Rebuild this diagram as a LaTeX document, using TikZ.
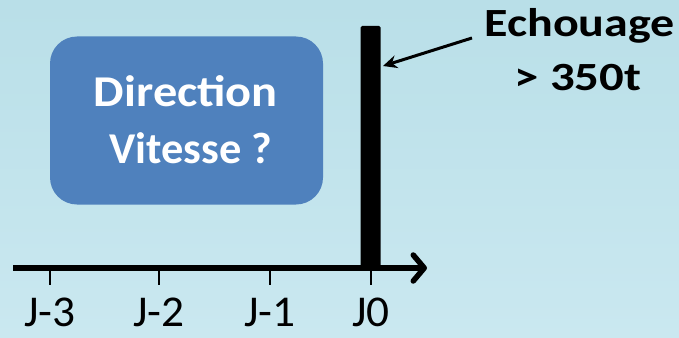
\documentclass[tikz,border=0pt]{standalone}
\usepackage{fontspec}
\setmainfont{Carlito}
\usetikzlibrary{arrows.meta}
\definecolor{bgtop}{RGB}{185,223,232}
\definecolor{bgbot}{RGB}{202,232,240}
\definecolor{boxblue}{RGB}{79,129,189}
\tikzset{
  boxtext/.style={font=\fontsize{44}{53}\selectfont\bfseries, inner sep=0pt, anchor=base},
  notetext/.style={font=\fontsize{40}{48}\selectfont\bfseries, inner sep=0pt, anchor=base},
  daylabel/.style={font=\fontsize{44}{53}\selectfont, inner sep=0pt, anchor=base, text depth=1pt},
  tickmark/.style={line width=2pt},
  axisline/.style={line width=5.5pt, -{Straight Barb[length=11pt,width=26pt,round]}},
  pointer/.style={line width=3pt, -{Stealth[length=14pt,width=13pt]}},
}
\begin{document}
\begin{tikzpicture}[x=1pt,y=-1pt]
  % backdrop
  \fill[top color=bgtop, bottom color=bgbot] (0,0) rectangle (679,337);
  \useasboundingbox (0,0) rectangle (679,337);

  % question box
  \node[fill=boxblue, rounded corners=27pt, minimum width=273pt, minimum height=168pt,
        inner sep=0pt] (qbox) at (186.5,120.5) {};
  \node[boxtext, text=white] (dir1) at (186,106) {\scalebox{1.1}[1]{Direction}};
  \node[boxtext, text=white] (dir2) at (191,163) {\scalebox{1.01}[1]{Vitesse ?}};

  % stranding bar at day 0
  \node[fill=black, minimum width=20pt, minimum height=244pt, inner sep=0pt,
        rounded corners=1.5pt] (bar) at (370.5,148) {};

  % time axis
  \coordinate (ax0) at (13,268);
  \coordinate (ax1) at (427,268);
  \draw[axisline] (ax0) -- (ax1);

  \foreach \x/\t/\n in {50/J-3/a, 159/J-2/b, 270/J-1/c, 371/J0/d} {
    \coordinate (tick\n) at (\x,271);
    \draw[tickmark] (tick\n) -- ++(0,14);
    \node[daylabel] (lab\n) at (\x,326) {\scalebox{1.03}[1]{\t}};
  }

  % annotation
  \node[notetext] (echo1) at (579.5,37) {\scalebox{1.2}[1]{Echouage}};
  \node[notetext] (echo2) at (578,90) {\scalebox{1.22}[1]{> 350t}};
  \coordinate (ptr) at (472,38);
  \coordinate (hit) at (383,66);
  \draw[pointer] (ptr) -- (hit);
\end{tikzpicture}
\end{document}
